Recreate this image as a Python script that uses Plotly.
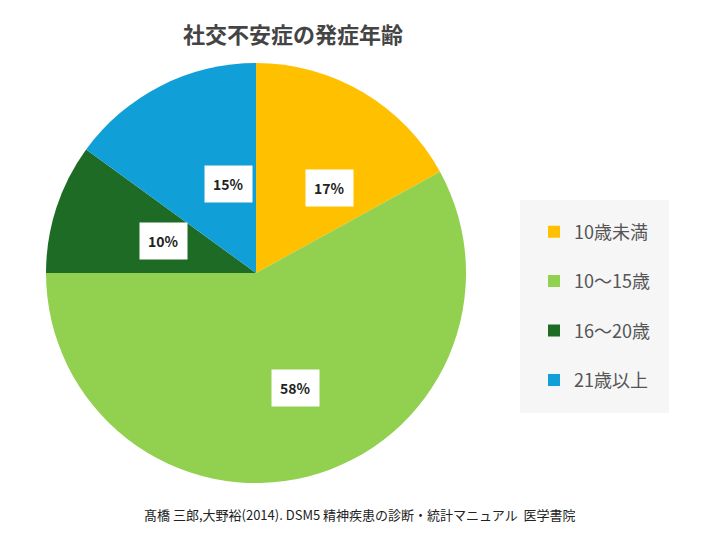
import plotly.graph_objects as go
import math

labels = ["10歳未満", "10〜15歳", "16〜20歳", "21歳以上"]
values = [17, 58, 10, 15]
colors = ["#FFC000", "#92D050", "#1E6B25", "#119FD8"]

W, H = 703, 541
cx, cy, r = 248, 265, 210

fig = go.Figure(go.Pie(
    labels=labels, values=values, sort=False, direction="clockwise", rotation=0,
    marker=dict(colors=colors), textinfo="none", hoverinfo="label+percent",
    showlegend=False,
    domain=dict(x=[(cx - r) / W, (cx + r) / W], y=[(H - cy - r) / H, (H - cy + r) / H]),
))
for lab, col in zip(labels, colors):
    fig.add_trace(go.Scatter(x=[None], y=[None], mode="markers", name=lab, legendgroup=lab,
                             marker=dict(symbol="square", size=12, color=col)))

total = sum(values)
cum = 0
anns = []
pcx, pcy = 255, 273
for v in values:
    mid = (cum + v / 2) / total * 2 * math.pi
    cum += v
    f = 0.62
    px = pcx + f * r * math.sin(mid)
    py = pcy - f * r * math.cos(mid)
    anns.append(dict(x=px / W, y=1 - py / H, xref="paper", yref="paper",
                     text=f"<b>{round(v / total * 100)}%</b>", showarrow=False,
                     bgcolor="white", borderpad=8,
                     font=dict(size=14, color="#222", family="Noto Sans CJK JP")))
anns.append(dict(x=0.5, y=1 - 518 / H, xref="paper", yref="paper", showarrow=False,
                 text="髙橋 三郎,大野裕(2014). DSM5 精神疾患の診断・統計マニュアル  医学書院",
                 font=dict(size=13, color="#222", family="Noto Sans CJK JP")))

fig.update_layout(
    width=W, height=H, margin=dict(l=0, r=0, t=0, b=0),
    paper_bgcolor="white", plot_bgcolor="white",
    xaxis=dict(visible=False), yaxis=dict(visible=False),
    title=dict(text="<b>社交不安症の発症年齢</b>", x=285 / W, xanchor="center",
               y=1 - 27 / H, yanchor="middle",
               font=dict(size=22, color="#444", family="Noto Sans CJK JP")),
    legend=dict(x=512 / W, xanchor="left", y=1 - 298 / H, yanchor="middle",
                bgcolor="#f6f6f6", font=dict(size=18, color="#555", family="Noto Sans CJK JP"),
                tracegroupgap=23, borderwidth=14, bordercolor="#f6f6f6"),
    annotations=anns,
)
fig.write_html("out.html")
